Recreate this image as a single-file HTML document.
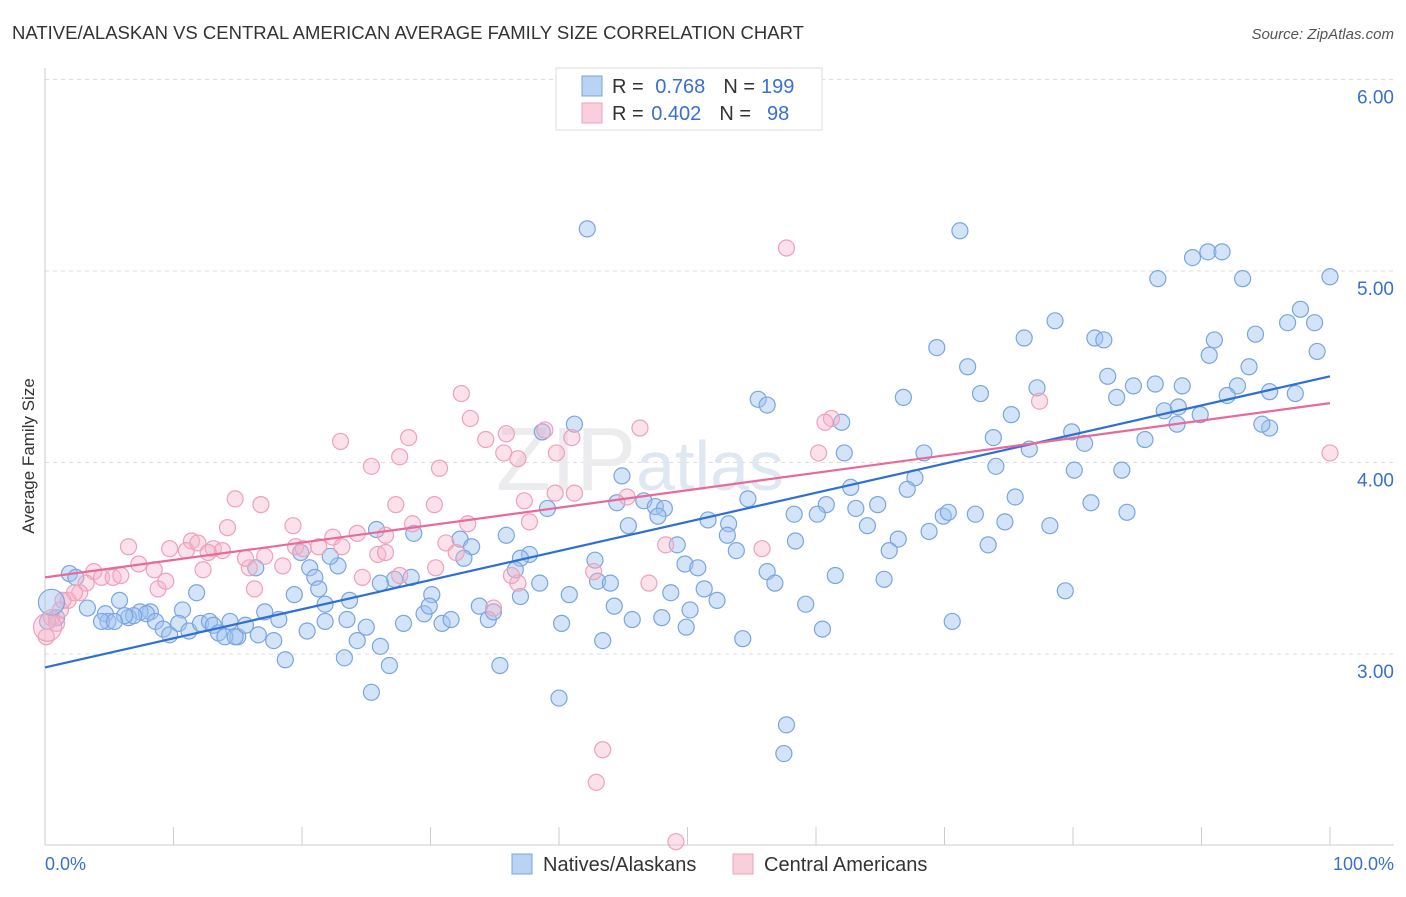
<!DOCTYPE html>
<html><head><meta charset="utf-8">
<style>
body{margin:0;background:#fff;font-family:"Liberation Sans",sans-serif;}
svg text{font-family:"Liberation Sans",sans-serif;}
</style></head>
<body>
<svg id="chart" width="1406" height="892" xmlns="http://www.w3.org/2000/svg">
<text x="12" y="39" font-size="18.5" fill="#333">NATIVE/ALASKAN VS CENTRAL AMERICAN AVERAGE FAMILY SIZE CORRELATION CHART</text>
<text x="1394" y="39" font-size="15" fill="#555" font-style="italic" text-anchor="end">Source: ZipAtlas.com</text>
<text x="0" y="0" font-size="17" fill="#333" text-anchor="middle" transform="translate(34,456) rotate(-90)">Average Family Size</text>
<g id="grid"></g>
<text x="640" y="490" font-size="90" fill="#ececef" font-family="Liberation Serif" text-anchor="middle">ZIP<tspan font-family="Liberation Sans" font-size="70" fill="#dfe7f2">atlas</tspan></text>
<g id="pts"></g>
<g id="lines"></g>
<g>
<rect x="556" y="68" width="266" height="62" fill="#fff" stroke="#ddd"/>
<rect x="582" y="76" width="20" height="20" fill="#b9d3f5" stroke="#7aa5e0"/>
<text x="612" y="93" font-size="20" fill="#333">R = <tspan fill="#3a6fd0" dx="6">0.768</tspan><tspan dx="18" fill="#333">N =</tspan><tspan fill="#3a6fd0" dx="6">199</tspan></text>
<rect x="582" y="103" width="20" height="20" fill="#f9cfdc" stroke="#f0a0bb"/>
<text x="612" y="120" font-size="20" fill="#333">R = <tspan fill="#3a6fd0" dx="2">0.402</tspan><tspan dx="18" fill="#333">N =</tspan><tspan fill="#3a6fd0" dx="16">98</tspan></text>
</g>
<g>
<rect x="512" y="854" width="20" height="20" fill="#b9d3f5" stroke="#7aa5e0"/>
<text x="543" y="871" font-size="20" fill="#333">Natives/Alaskans</text>
<rect x="733" y="854" width="20" height="20" fill="#f9cfdc" stroke="#f0a0bb"/>
<text x="764" y="871" font-size="20" fill="#333">Central Americans</text>
</g>
<text x="45" y="870" font-size="18" fill="#3a6fd0">0.0%</text>
<text x="1394" y="870" font-size="18" fill="#3a6fd0" text-anchor="end">100.0%</text>
</svg>
<script>
const yTicks=[3,4,5,6];
const yTickLabels=["3.00","4.00","5.00","6.00"];
const blueX=[42.2,71.2,89.3,90.5,91.6,100,86.6,93.2,97.7,98.8,96.7,78.6,76.2,81.7,82.4,99.0,94.2,91.0,90.6,69.4,71.8,93.7,82.7,77.2,84.7,86.4,88.5,92.8,95.3,97.3,72.8,66.8,55.5,56.2,83.4,92.0,87.1,88.2,89.9,95.3,94.7,88.1,75.2,62.0,41.2,38.7,73.8,79.9,85.6,76.6,80.9,68.4,62.2,74.0,80.1,83.8,44.9,62.7,67.7,67.1,54.7,75.5,81.4,46.6,47.5,60.8,64.8,44.5,48.2,47.7,58.3,60.1,63.1,69.9,70.3,72.4,84.2,74.7,78.2,51.6,53.2,45.4,64.0,68.8,25.8,28.7,53.1,39.1,35.9,58.4,49.2,66.4,73.4,65.7,53.8,32.3,33.2,37.7,37.0,32.6,19.9,42.8,49.8,43.0,50.8,36.6,16.4,22.8,22.2,20.6,21.0,56.2,61.5,65.3,28.5,27.2,26.1,1.9,2.4,21.3,38.5,44.0,51.3,56.8,79.4,11.8,37.0,30.1,19.4,5.8,52.3,48.7,23.7,21.8,17.1,10.7,8.2,3.3,7.4,4.7,6.5,7.9,6.9,4.9,6.2,4.4,5.4,8.6,9.2,9.7,10.4,11.2,12.1,12.8,13.1,13.5,14.4,15.0,14.0,14.8,15.6,16.6,17.8,18.2,20.4,21.8,23.5,25.0,27.9,29.5,29.9,30.9,31.6,33.8,34.5,34.9,40.2,40.8,44.3,45.7,48.0,50.2,49.9,59.2,60.5,70.6,54.3,43.4,24.3,26.1,23.3,18.7,26.8,35.4,25.4,40.0,57.7,57.5,0.9,0.2];
const blueY=[5.22,5.21,5.07,5.10,5.10,4.97,4.96,4.96,4.80,4.73,4.73,4.74,4.65,4.65,4.64,4.58,4.67,4.64,4.56,4.60,4.50,4.50,4.45,4.39,4.40,4.41,4.40,4.40,4.37,4.36,4.36,4.34,4.33,4.30,4.34,4.35,4.27,4.29,4.25,4.18,4.20,4.20,4.25,4.21,4.20,4.16,4.13,4.16,4.12,4.07,4.10,4.05,4.05,3.98,3.96,3.96,3.93,3.87,3.92,3.86,3.81,3.82,3.79,3.80,3.77,3.78,3.78,3.79,3.76,3.72,3.73,3.73,3.76,3.72,3.74,3.73,3.74,3.69,3.67,3.70,3.68,3.67,3.67,3.64,3.65,3.63,3.62,3.76,3.62,3.59,3.57,3.60,3.57,3.54,3.54,3.60,3.56,3.52,3.50,3.50,3.53,3.49,3.47,3.38,3.45,3.44,3.45,3.46,3.51,3.45,3.40,3.43,3.41,3.39,3.40,3.39,3.37,3.42,3.40,3.34,3.37,3.37,3.34,3.37,3.33,3.32,3.30,3.31,3.31,3.28,3.28,3.32,3.28,3.26,3.22,3.23,3.22,3.24,3.22,3.21,3.19,3.21,3.20,3.17,3.20,3.17,3.17,3.17,3.13,3.10,3.16,3.12,3.16,3.17,3.15,3.11,3.17,3.09,3.09,3.09,3.15,3.10,3.07,3.18,3.12,3.17,3.18,3.14,3.16,3.21,3.25,3.16,3.18,3.25,3.18,3.22,3.16,3.31,3.25,3.18,3.19,3.23,3.14,3.26,3.13,3.17,3.08,3.07,3.07,3.04,2.98,2.97,2.94,2.94,2.80,2.77,2.63,2.48,3.19,3.17];
const pinkX=[57.7,32.4,33.1,38.9,41.0,46.3,34.3,35.9,28.3,23.0,35.7,36.8,39.8,27.6,61.2,60.7,60.2,77.4,100,25.4,30.7,14.8,16.8,27.3,30.3,39.7,41.2,37.3,45.3,19.3,22.4,24.3,28.6,26.5,32.9,37.7,14.2,11.4,6.5,9.7,11.0,13.1,11.9,13.8,12.7,19.5,20.1,21.3,23.1,25.9,26.5,31.2,32.0,17.1,15.9,7.3,8.5,12.3,15.6,18.5,24.7,27.6,30.4,42.7,48.3,55.8,36.8,36.3,47.0,3.8,4.4,5.3,5.9,3.2,2.7,1.8,2.3,1.2,0.5,0.1,8.8,9.4,16.3,34.9,43.4,42.9,49.1,0.9,1.4];
const pinkY=[5.12,4.36,4.23,4.17,4.13,4.18,4.12,4.15,4.13,4.11,4.05,4.02,4.05,4.03,4.23,4.21,4.05,4.32,4.05,3.98,3.97,3.81,3.78,3.78,3.78,3.84,3.84,3.80,3.82,3.67,3.61,3.63,3.68,3.62,3.68,3.69,3.66,3.59,3.56,3.55,3.54,3.55,3.58,3.54,3.53,3.56,3.55,3.56,3.56,3.52,3.53,3.58,3.53,3.51,3.45,3.47,3.44,3.44,3.50,3.46,3.40,3.41,3.45,3.43,3.57,3.55,3.37,3.41,3.37,3.43,3.40,3.40,3.41,3.37,3.32,3.28,3.32,3.23,3.19,3.09,3.34,3.38,3.34,3.24,2.50,2.33,2.02,3.16,3.28];
const bigBlue=[0.5,3.27];
const bigPink=[0.2,3.14];
const blueTrend=[2.93,4.45];
const pinkTrend=[3.40,4.31];

const X0=45,X1=1330,Y3=654,UNIT=191.5;
const sx=p=>X0+(X1-X0)*p/100;
const sy=v=>Y3-(v-3)*UNIT;
const NS="http://www.w3.org/2000/svg";
function mk(tag,attrs,parent){const e=document.createElementNS(NS,tag);for(const k in attrs)e.setAttribute(k,attrs[k]);parent.appendChild(e);return e;}
const grid=document.getElementById('grid');
yTicks.forEach((t,i)=>{
  const l=mk('line',{x1:45,x2:1394,y1:sy(t),y2:sy(t),stroke:'#ddd','stroke-dasharray':'4,4'},grid);
  
  
  const tx=mk('text',{x:1394,y:sy(t)+24,'font-size':19,fill:'#3a6fd0','text-anchor':'end'},grid);
  tx.textContent=yTickLabels[i];
  
  
});
const ax=mk('line',{x1:45,x2:1394,y1:845,y2:845,stroke:'#ccc'},grid);


const ay=mk('line',{x1:45,x2:45,y1:68,y2:845,stroke:'#ccc'},grid);


for(let i=0;i<=10;i++){
  const tk=mk('line',{x1:sx(i*10),x2:sx(i*10),y1:827,y2:845,stroke:'#ccc'},grid);
  
  
}
const pts=document.getElementById('pts');
blueX.forEach((x,i)=>{
  const c=mk('circle',{cx:sx(x),cy:sy(blueY[i]),r:8,fill:'rgba(160,195,240,0.45)',stroke:'#7aa5e0','stroke-width':1.2},pts);
  
  
});
pinkX.forEach((x,i)=>{
  const c=mk('circle',{cx:sx(x),cy:sy(pinkY[i]),r:8,fill:'rgba(245,180,200,0.4)',stroke:'#f0a0bb','stroke-width':1.2},pts);
  
  
});
const bb=mk('circle',{cx:sx(bigBlue[0]),cy:sy(bigBlue[1]),r:13,fill:'rgba(160,195,240,0.45)',stroke:'#7aa5e0','stroke-width':1.2},pts);


const bp=mk('circle',{cx:sx(bigPink[0]),cy:sy(bigPink[1]),r:14,fill:'rgba(245,180,200,0.4)',stroke:'#f0a0bb','stroke-width':1.2},pts);


const lines=document.getElementById('lines');
const bl=mk('line',{x1:sx(0),y1:sy(blueTrend[0]),x2:sx(100),y2:sy(blueTrend[1]),stroke:'#2e6fd6','stroke-width':2.2},lines);


const pl=mk('line',{x1:sx(0),y1:sy(pinkTrend[0]),x2:sx(100),y2:sy(pinkTrend[1]),stroke:'#e8699a','stroke-width':2.2},lines);


</script>
</body></html>
